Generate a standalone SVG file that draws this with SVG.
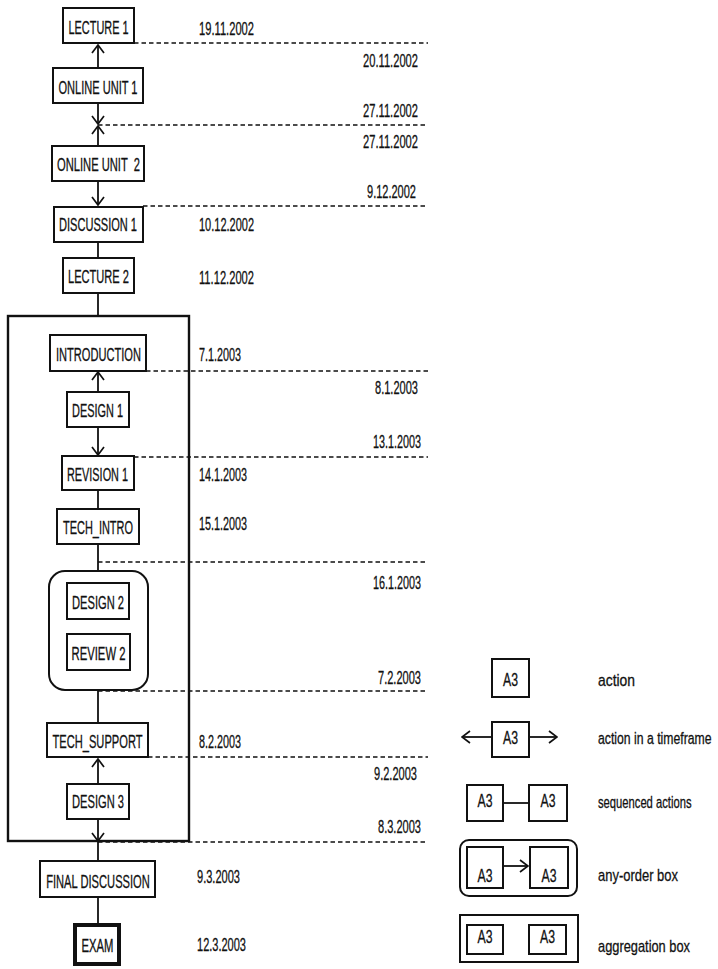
<svg xmlns="http://www.w3.org/2000/svg" width="718" height="969" viewBox="0 0 718 969">
<style>
text{font-family:"Liberation Sans",Arial,sans-serif;font-size:18px;fill:#111;stroke:#111;stroke-width:0.3}
.lbl{text-anchor:middle}
.r{text-anchor:end}
.box{fill:#fff;stroke:#111;stroke-width:2}
.ln{stroke:#111;stroke-width:1.8;fill:none}
.dash{stroke:#111;stroke-width:1.7;stroke-dasharray:4.5 3;fill:none}
.lg{font-size:17px}
</style>
<defs>
<marker id="arr" viewBox="0 0 14 14" refX="13" refY="7" markerWidth="14" markerHeight="14" markerUnits="userSpaceOnUse" orient="auto">
<path d="M5,1 L13,7 L5,13" fill="none" stroke="#111" stroke-width="1.7"/>
</marker>
</defs>
<rect width="718" height="969" fill="#fff"/>

<g id="timeline-dashes">
<path class="dash" d="M134,43H428M98,125H428M143,206H428M146,371H428M134,457H428M98,562H428M98,691H428M148,757H428M98,842H428"/>
</g>

<g id="connectors">
<path class="ln" d="M98,68V45" marker-end="url(#arr)"/>
<path class="ln" d="M98,103V124" marker-end="url(#arr)"/>
<path class="ln" d="M98,146V126" marker-end="url(#arr)"/>
<path class="ln" d="M98,181V205" marker-end="url(#arr)"/>
<path class="ln" d="M98,242V258"/>
<path class="ln" d="M98,293V316"/>
<path class="ln" d="M98,392V372" marker-end="url(#arr)"/>
<path class="ln" d="M98,427V455" marker-end="url(#arr)"/>
<path class="ln" d="M98,490V509"/>
<path class="ln" d="M98,544V571"/>
<path class="ln" d="M98,690V723"/>
<path class="ln" d="M98,784V759" marker-end="url(#arr)"/>
<path class="ln" d="M98,819V841" marker-end="url(#arr)"/>
<path class="ln" d="M98,842V861"/>
<path class="ln" d="M98,897V924"/>
</g>

<g id="aggregation">
<rect x="8" y="316" width="181" height="525" fill="none" stroke="#111" stroke-width="2.4"/>
</g>

<g id="lecture1"><rect class="box" x="63" y="8" width="71" height="35"/><text class="lbl" x="98.5" y="34" textLength="60" lengthAdjust="spacingAndGlyphs">LECTURE 1</text></g>
<g id="online1"><rect class="box" x="53" y="68" width="90" height="35"/><text class="lbl" x="98" y="94" textLength="79" lengthAdjust="spacingAndGlyphs">ONLINE UNIT 1</text></g>
<g id="online2"><rect class="box" x="52" y="146" width="92" height="35"/><text class="lbl" x="98.5" y="171" textLength="83" lengthAdjust="spacingAndGlyphs" xml:space="preserve">ONLINE UNIT  2</text></g>
<g id="discussion1"><rect class="box" x="54" y="207" width="89" height="35"/><text class="lbl" x="98" y="231" textLength="78" lengthAdjust="spacingAndGlyphs">DISCUSSION 1</text></g>
<g id="lecture2"><rect class="box" x="63" y="258" width="71" height="35"/><text class="lbl" x="98.5" y="283" textLength="61" lengthAdjust="spacingAndGlyphs">LECTURE 2</text></g>
<g id="introduction"><rect class="box" x="50" y="335" width="96" height="36"/><text class="lbl" x="98.5" y="361" textLength="85" lengthAdjust="spacingAndGlyphs">INTRODUCTION</text></g>
<g id="design1"><rect class="box" x="67" y="392" width="62" height="35"/><text class="lbl" x="97.5" y="417" textLength="51" lengthAdjust="spacingAndGlyphs">DESIGN 1</text></g>
<g id="revision1"><rect class="box" x="62" y="456" width="72" height="34"/><text class="lbl" x="97.5" y="481" textLength="61" lengthAdjust="spacingAndGlyphs">REVISION 1</text></g>
<g id="techintro"><rect class="box" x="57" y="509" width="82" height="35"/><text class="lbl" x="98" y="534" textLength="70" lengthAdjust="spacingAndGlyphs">TECH_INTRO</text></g>
<g id="anyorder"><rect x="49" y="571" width="99" height="119" rx="16" fill="#fff" stroke="#111" stroke-width="2"/>
<g id="design2"><rect class="box" x="67" y="583" width="62" height="36"/><text class="lbl" x="98" y="609" textLength="52" lengthAdjust="spacingAndGlyphs">DESIGN 2</text></g>
<g id="review2"><rect class="box" x="67" y="634" width="63" height="36"/><text class="lbl" x="98.5" y="660" textLength="54" lengthAdjust="spacingAndGlyphs">REVIEW 2</text></g>
</g>
<g id="techsupport"><rect class="box" x="47" y="723" width="101" height="34"/><text class="lbl" x="97.5" y="748" textLength="90" lengthAdjust="spacingAndGlyphs">TECH_SUPPORT</text></g>
<g id="design3"><rect class="box" x="67" y="784" width="62" height="35"/><text class="lbl" x="98" y="808" textLength="52" lengthAdjust="spacingAndGlyphs">DESIGN 3</text></g>
<g id="finaldiscussion"><rect class="box" x="40" y="861" width="115" height="36"/><text class="lbl" transform="translate(98,888) scale(0.62,1)" x="0" y="0">FINAL DISCUSSION</text></g>
<g id="exam"><rect x="75" y="925" width="44" height="39" fill="#fff" stroke="#111" stroke-width="4"/><text class="lbl" x="97.5" y="952" textLength="32" lengthAdjust="spacingAndGlyphs">EXAM</text></g>

<g id="dates">
<text x="199" y="35" textLength="55" lengthAdjust="spacingAndGlyphs">19.11.2002</text>
<text class="r" x="418" y="67" textLength="55" lengthAdjust="spacingAndGlyphs">20.11.2002</text>
<text class="r" x="418" y="117" textLength="55" lengthAdjust="spacingAndGlyphs">27.11.2002</text>
<text class="r" x="418" y="148" textLength="55" lengthAdjust="spacingAndGlyphs">27.11.2002</text>
<text class="r" x="416" y="198" textLength="49" lengthAdjust="spacingAndGlyphs">9.12.2002</text>
<text x="199" y="231" textLength="55" lengthAdjust="spacingAndGlyphs">10.12.2002</text>
<text x="199" y="284" textLength="55" lengthAdjust="spacingAndGlyphs">11.12.2002</text>
<text x="199" y="361" textLength="42" lengthAdjust="spacingAndGlyphs">7.1.2003</text>
<text class="r" x="418" y="394" textLength="43" lengthAdjust="spacingAndGlyphs">8.1.2003</text>
<text class="r" x="421" y="448" textLength="48" lengthAdjust="spacingAndGlyphs">13.1.2003</text>
<text x="199" y="481" textLength="48" lengthAdjust="spacingAndGlyphs">14.1.2003</text>
<text x="199" y="530" textLength="48" lengthAdjust="spacingAndGlyphs">15.1.2003</text>
<text class="r" x="421" y="589" textLength="48" lengthAdjust="spacingAndGlyphs">16.1.2003</text>
<text class="r" x="421" y="684" textLength="43" lengthAdjust="spacingAndGlyphs">7.2.2003</text>
<text x="199" y="748" textLength="42" lengthAdjust="spacingAndGlyphs">8.2.2003</text>
<text class="r" x="417" y="780" textLength="43" lengthAdjust="spacingAndGlyphs">9.2.2003</text>
<text class="r" x="421" y="833" textLength="43" lengthAdjust="spacingAndGlyphs">8.3.2003</text>
<text x="197" y="883" textLength="43" lengthAdjust="spacingAndGlyphs">9.3.2003</text>
<text x="197" y="951" textLength="49" lengthAdjust="spacingAndGlyphs">12.3.2003</text>
</g>

<g id="legend">
<g id="lg-action">
<rect class="box" x="492" y="659" width="37" height="38"/><text class="lbl" x="510.5" y="686" textLength="15" lengthAdjust="spacingAndGlyphs">A3</text>
<text class="lg" x="598" y="686" textLength="37" lengthAdjust="spacingAndGlyphs">action</text>
</g>
<g id="lg-timeframe">
<path class="ln" d="M492,737H462" marker-end="url(#arr)"/>
<path class="ln" d="M529,737H557" marker-end="url(#arr)"/>
<rect class="box" x="492" y="722" width="37" height="35"/><text class="lbl" x="510.5" y="744" textLength="15" lengthAdjust="spacingAndGlyphs">A3</text>
<text class="lg" transform="translate(598,744) scale(0.72,1)" x="0" y="0">action in a timeframe</text>
</g>
<g id="lg-sequenced">
<path class="ln" d="M503,803H529"/>
<rect class="box" x="467" y="785" width="36" height="36"/><text class="lbl" x="485" y="807" textLength="15" lengthAdjust="spacingAndGlyphs">A3</text>
<rect class="box" x="529" y="785" width="38" height="36"/><text class="lbl" x="548" y="807" textLength="15" lengthAdjust="spacingAndGlyphs">A3</text>
<text class="lg" transform="translate(598,808) scale(0.66,1)" x="0" y="0">sequenced actions</text>
</g>
<g id="lg-anyorder">
<rect x="460" y="840" width="117" height="56" rx="9" fill="#fff" stroke="#111" stroke-width="2"/>
<path class="ln" d="M503,866H528" marker-end="url(#arr)"/>
<rect class="box" x="467" y="847" width="36" height="41"/><text class="lbl" x="485" y="882" textLength="15" lengthAdjust="spacingAndGlyphs">A3</text>
<rect class="box" x="530" y="847" width="38" height="41"/><text class="lbl" x="549" y="882" textLength="15" lengthAdjust="spacingAndGlyphs">A3</text>
<text class="lg" x="598" y="881" textLength="80" lengthAdjust="spacingAndGlyphs">any-order box</text>
</g>
<g id="lg-aggregation">
<rect x="460" y="915" width="118" height="47" fill="#fff" stroke="#111" stroke-width="2"/>
<rect class="box" x="467" y="925" width="36" height="29"/><text class="lbl" x="485" y="943" textLength="15" lengthAdjust="spacingAndGlyphs">A3</text>
<rect class="box" x="529" y="925" width="37" height="29"/><text class="lbl" x="547.5" y="943" textLength="15" lengthAdjust="spacingAndGlyphs">A3</text>
<text class="lg" x="598" y="952" textLength="92" lengthAdjust="spacingAndGlyphs">aggregation box</text>
</g>
</g>
</svg>
